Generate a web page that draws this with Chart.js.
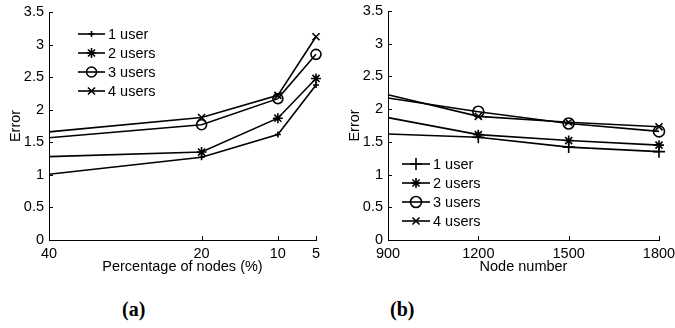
<!DOCTYPE html>
<html>
<head>
<meta charset="utf-8">
<script src="https://cdn.jsdelivr.net/npm/chart.js"></script>
<style>
  body { margin: 0; background: #fff; }
  #wrap { position: relative; width: 675px; height: 328px; overflow: hidden; }
  canvas { position: absolute; top: 0; }
  .cap { position: absolute; top: 298px; font: bold 20px "Liberation Serif", "Times New Roman", serif; color: #000; }
</style>
</head>
<body>
<div id="wrap">
  <canvas id="chartA" width="340" height="290" style="left:0"></canvas>
  <canvas id="chartB" width="335" height="290" style="left:340px"></canvas>
  <div class="cap" style="left:122px">(a)</div>
  <div class="cap" style="left:390px">(b)</div>
</div>
<script>
// series names and marker styles
const seriesNames = ['1 user', '2 users', '3 users', '4 users'];
const markers = ['cross', 'star', 'circle', 'crossRot'];

// (a) error vs percentage of nodes
const pctTicks = [40, 20, 10, 5];
const pctUser1 = [1.01, 1.27, 1.62, 2.38];
const pctUser2 = [1.28, 1.35, 1.87, 2.48];
const pctUser3 = [1.57, 1.77, 2.17, 2.85];
const pctUser4 = [1.66, 1.88, 2.22, 3.12];

// (b) error vs node number
const nodeTicks = [900, 1200, 1500, 1800];
const nodeUser1 = [1.62, 1.57, 1.42, 1.35];
const nodeUser2 = [1.87, 1.61, 1.52, 1.45];
const nodeUser3 = [2.17, 1.96, 1.78, 1.66];
const nodeUser4 = [2.22, 1.89, 1.80, 1.73];

const FONT = '"Liberation Sans", Arial, sans-serif';
Chart.defaults.font.family = FONT;
Chart.defaults.font.size = 14.5;
Chart.defaults.color = '#000';

// matlab style ticks pointing into the plot
const inwardTicks = {
  id: 'inwardTicks',
  afterDraw(chart) {
    const ctx = chart.ctx, x = chart.scales.x, y = chart.scales.y;
    ctx.save();
    ctx.strokeStyle = '#000';
    ctx.lineWidth = 1;
    ctx.beginPath();
    x.ticks.forEach(t => {
      const px = Math.round(x.getPixelForValue(t.value)) + 0.5;
      ctx.moveTo(px, y.bottom); ctx.lineTo(px, y.bottom - 4);
    });
    y.ticks.forEach(t => {
      const py = Math.round(y.getPixelForValue(t.value)) + 0.5;
      ctx.moveTo(x.left, py); ctx.lineTo(x.left + 4, py);
    });
    ctx.stroke();
    ctx.restore();
  }
};

// legend drawn inside the plot at a fixed spot
const boxLegend = {
  id: 'boxLegend',
  afterDraw(chart, args, opts) {
    const ctx = chart.ctx;
    ctx.save();
    chart.data.datasets.forEach((ds, i) => {
      const y = opts.y + i * opts.gap;
      ctx.strokeStyle = '#000';
      ctx.fillStyle = 'rgba(0,0,0,0)';
      ctx.lineWidth = 1.6;
      ctx.beginPath();
      ctx.moveTo(opts.x, y); ctx.lineTo(opts.x + opts.len, y);
      ctx.stroke();
      Chart.helpers.drawPoint(ctx, {
        pointStyle: ds.pointStyle, radius: opts.radii[i], rotation: 0, borderWidth: 1.6
      }, opts.x + opts.len / 2, y);
      ctx.fillStyle = '#000';
      ctx.font = '14.5px ' + FONT;
      ctx.textBaseline = 'middle';
      ctx.fillText(ds.label, opts.x + opts.len + 3, y + 1);
    });
    ctx.restore();
  }
};

function makeSets(xs, series, radii) {
  return series.map((vals, i) => ({
    label: seriesNames[i],
    data: vals.map((v, j) => ({ x: xs[j], y: v })),
    borderColor: '#000',
    borderWidth: 1.6,
    pointStyle: markers[i],
    // no marker where the line meets the left axis
    pointRadius: xs.map((v, j) => (j === 0 ? 0 : radii[i])),
    pointBorderColor: '#000',
    pointBackgroundColor: 'rgba(0,0,0,0)',
    pointBorderWidth: 1.6,
    clip: false,
    tension: 0
  }));
}

function drawPanel(id, xs, series, radii, xOpts, xTitle, pad, legend) {
  legend.radii = radii;
  return new Chart(document.getElementById(id), {
    type: 'line',
    data: { datasets: makeSets(xs, series, radii) },
    options: {
      responsive: false,
      animation: false,
      layout: { padding: pad },
      plugins: {
        legend: { display: false },
        tooltip: { enabled: false },
        boxLegend: legend
      },
      scales: {
        x: Object.assign({
          type: 'linear',
          grid: { display: false, drawTicks: false },
          border: { display: true, color: '#000', width: 1 },
          ticks: { padding: 5, maxRotation: 0, autoSkip: false, callback: v => String(v) },
          title: { display: true, text: xTitle, padding: { top: 0, bottom: 14 } },
          afterBuildTicks: s => { s.ticks = xs.map(v => ({ value: v })); },
          afterFit: s => { s.height = 50; s.paddingLeft = 0; s.paddingRight = 0; }
        }, xOpts),
        y: {
          min: 0, max: 3.5,
          grid: { display: false, drawTicks: false },
          border: { display: true, color: '#000', width: 1 },
          ticks: { stepSize: 0.5, padding: 5, callback: v => String(v) },
          title: { display: true, text: 'Error', padding: { top: 6, bottom: 0 } },
          afterFit: s => { s.width = 48; s.paddingTop = 0; s.paddingBottom = 0; }
        }
      }
    },
    plugins: [inwardTicks, boxLegend]
  });
}

drawPanel('chartA', pctTicks, [pctUser1, pctUser2, pctUser3, pctUser4], [3, 5, 5, 5],
  { min: 5, max: 40, reverse: true }, 'Percentage of nodes (%)',
  { left: 1, top: 12, right: 24, bottom: 0 },
  { x: 78, y: 34, gap: 19, len: 27 });

drawPanel('chartB', nodeTicks, [nodeUser1, nodeUser2, nodeUser3, nodeUser4], [6, 5, 5.5, 5],
  { min: 900, max: 1800 }, 'Node number',
  { left: 0, top: 11, right: 16, bottom: 0 },
  { x: 62, y: 164, gap: 19, len: 28 });
</script>
</body>
</html>
